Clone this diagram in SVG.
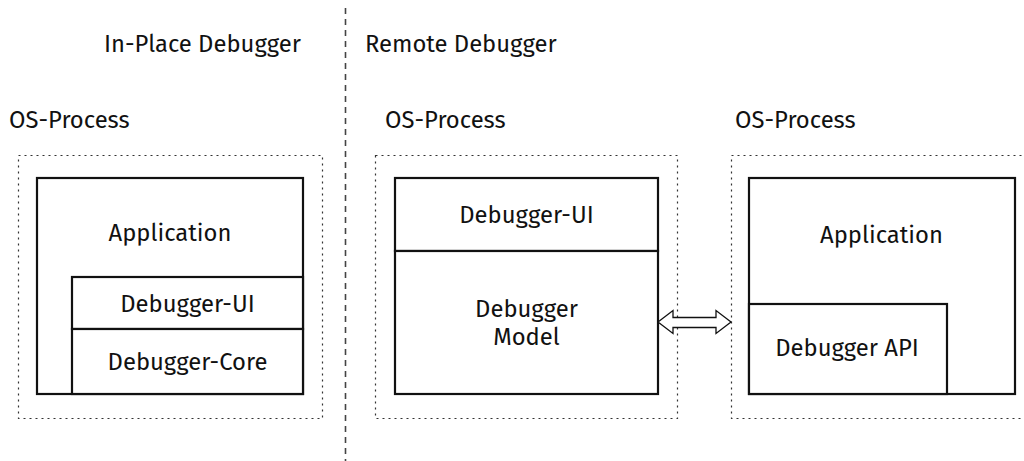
<svg xmlns="http://www.w3.org/2000/svg" width="1024" height="461" viewBox="0 0 1024 461">
<style>
text{font-family:"Fira Sans","Noto Sans","Open Sans",sans-serif;font-size:23.8px;fill:#111}
.c{text-anchor:middle}
.proc{fill:none;stroke:#333;stroke-width:1.2;stroke-dasharray:2 4}
.box{fill:#fff;stroke:#111;stroke-width:2.2}
</style>
<rect width="1024" height="461" fill="#fff"/>
<line x1="345.5" y1="8" x2="345.5" y2="461" stroke="#444" stroke-width="1.6" stroke-dasharray="6 5"/>
<text x="104" y="52">In-Place Debugger</text>
<text x="365" y="52">Remote Debugger</text>
<g id="proc-left">
<text x="9" y="128">OS-Process</text>
<rect class="proc" x="18.5" y="155.5" width="304" height="263"/>
</g>
<g id="proc-mid">
<text x="385" y="128">OS-Process</text>
<rect class="proc" x="375.5" y="155.5" width="302" height="263"/>
</g>
<g id="proc-right">
<text x="735" y="128">OS-Process</text>
<rect class="proc" x="731.5" y="155.5" width="310" height="263"/>
</g>
<g id="app-left">
<rect class="box" x="37" y="178" width="266" height="216"/>
<text class="c" x="170" y="241">Application</text>
</g>
<g id="dbgui-left">
<rect class="box" x="72" y="277" width="231" height="52"/>
<text class="c" x="187.5" y="312">Debugger-UI</text>
</g>
<g id="dbgcore-left">
<rect class="box" x="72" y="329" width="231" height="65"/>
<text class="c" x="187.5" y="370">Debugger-Core</text>
</g>
<g id="dbgui-mid">
<rect class="box" x="395" y="178" width="263" height="73"/>
<text class="c" x="526.5" y="223">Debugger-UI</text>
</g>
<g id="dbgmodel-mid">
<rect class="box" x="395" y="251" width="263" height="143"/>
<text class="c" x="526.5" y="317">Debugger</text>
<text class="c" x="526.5" y="345">Model</text>
</g>
<g id="app-right">
<rect class="box" x="749" y="178" width="266" height="216"/>
<text class="c" x="881.5" y="243">Application</text>
</g>
<g id="dbgapi-right">
<rect class="box" x="749" y="304" width="198" height="90"/>
<text class="c" x="847" y="356">Debugger API</text>
</g>
<g id="connectors">
<polygon points="658,322 673,310.5 673,317.5 716,317.5 716,310.5 731,322 716,333.5 716,327.5 673,327.5 673,333.5" fill="#fff" stroke="#111" stroke-width="1.3" stroke-linejoin="miter"/>
</g>
</svg>
